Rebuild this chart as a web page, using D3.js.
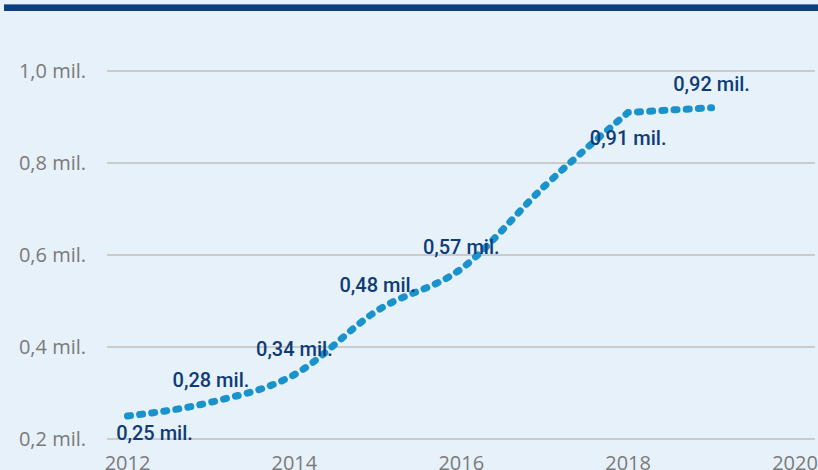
<!DOCTYPE html>
<html>
<head>
<meta charset="utf-8">
<script src="https://cdn.jsdelivr.net/npm/d3@7"></script>
<style>
  html, body { margin: 0; padding: 0; background: #e7f1f9; }
  #chart { width: 818px; height: 470px; }
  .tick-label { font-family: "Open Sans", sans-serif; font-size: 20px; fill: #7a7a7a; }
  .value-label { font-family: Roboto, sans-serif; font-size: 20px; font-weight: 500; fill: #0d3c78; }
</style>
</head>
<body>
<div id="chart"></div>
<script>
const years = [2012, 2013, 2014, 2015, 2016, 2017, 2018, 2019];
const values = [0.25, 0.28, 0.34, 0.48, 0.57, 0.75, 0.91, 0.92];
const labels = ['0,25 mil.', '0,28 mil.', '0,34 mil.', '0,48 mil.', '0,57 mil.', null, '0,91 mil.', '0,92 mil.'];
const yTicks = [0.2, 0.4, 0.6, 0.8, 1.0];
const yTickLabels = ['0,2 mil.', '0,4 mil.', '0,6 mil.', '0,8 mil.', '1,0 mil.'];
const xTicks = [2012, 2014, 2016, 2018, 2020];

const data = years.map((y, i) => ({year: y, value: values[i], label: labels[i]}));

// label placement relative to point (px)
const labelOffset = [
  {dx: 27, dy: 17}, {dx: 0, dy: -22}, {dx: 0, dy: -26}, {dx: 0, dy: -25},
  {dx: 0, dy: -22}, {dx: 0, dy: 0}, {dx: 0, dy: 26}, {dx: 0, dy: -24}
];

const width = 818;
const height = 470;

const svg = d3.select('#chart').append('svg')
  .attr('width', width)
  .attr('height', height);

svg.append('rect')
  .attr('width', width)
  .attr('height', height)
  .attr('fill', '#e7f1f9');

// top band
svg.append('rect')
  .attr('x', 4).attr('y', 4)
  .attr('width', width - 4).attr('height', 7)
  .attr('fill', '#0c3f7d');
svg.append('rect')
  .attr('x', 4).attr('y', 4)
  .attr('width', width - 4).attr('height', 1)
  .attr('fill', '#5b84b3');

const xScale = d3.scaleLinear()
  .domain([2012, 2020])
  .range([127.5, 795]);

const yScale = d3.scaleLinear()
  .domain([0.2, 1.0])
  .range([439, 71]);

const gridLeft = 107;
const gridRight = 815;

// gridlines
svg.append('g')
  .selectAll('line')
  .data(yTicks)
  .join('line')
  .attr('x1', gridLeft)
  .attr('x2', gridRight)
  .attr('y1', d => yScale(d))
  .attr('y2', d => yScale(d))
  .attr('stroke', '#cbcbcb')
  .attr('stroke-width', 2);

// y labels
svg.append('g')
  .selectAll('text')
  .data(yTicks)
  .join('text')
  .attr('class', 'tick-label')
  .attr('x', 86)
  .attr('y', d => yScale(d))
  .attr('dy', '0.35em')
  .attr('text-anchor', 'end')
  .text((d, i) => yTickLabels[i]);

// x labels
svg.append('g')
  .selectAll('text')
  .data(xTicks)
  .join('text')
  .attr('class', 'tick-label')
  .attr('x', d => xScale(d))
  .attr('y', 470)
  .attr('text-anchor', 'middle')
  .text(d => d);

// dotted line: smooth up to 2018, then straight to the last point
const lineGenerator = d3.line()
  .x(d => xScale(d.year))
  .y(d => yScale(d.value))
  .curve(d3.curveMonotoneX);

const last = data[data.length - 1];
const pathD = lineGenerator(data.slice(0, -1)) +
  `L${xScale(last.year)},${yScale(last.value)}`;

svg.append('path')
  .attr('d', pathD)
  .attr('fill', 'none')
  .attr('stroke', '#1a93cd')
  .attr('stroke-width', 7)
  .attr('stroke-linecap', 'round')
  .attr('stroke-dasharray', '3 9.2');

// value labels
svg.append('g')
  .selectAll('text')
  .data(data.filter(d => d.label))
  .join('text')
  .attr('class', 'value-label')
  .attr('x', d => xScale(d.year) + labelOffset[years.indexOf(d.year)].dx)
  .attr('y', d => yScale(d.value) + labelOffset[years.indexOf(d.year)].dy)
  .attr('dy', '0.35em')
  .attr('text-anchor', 'middle')
  .text(d => d.label);
</script>
</body>
</html>
